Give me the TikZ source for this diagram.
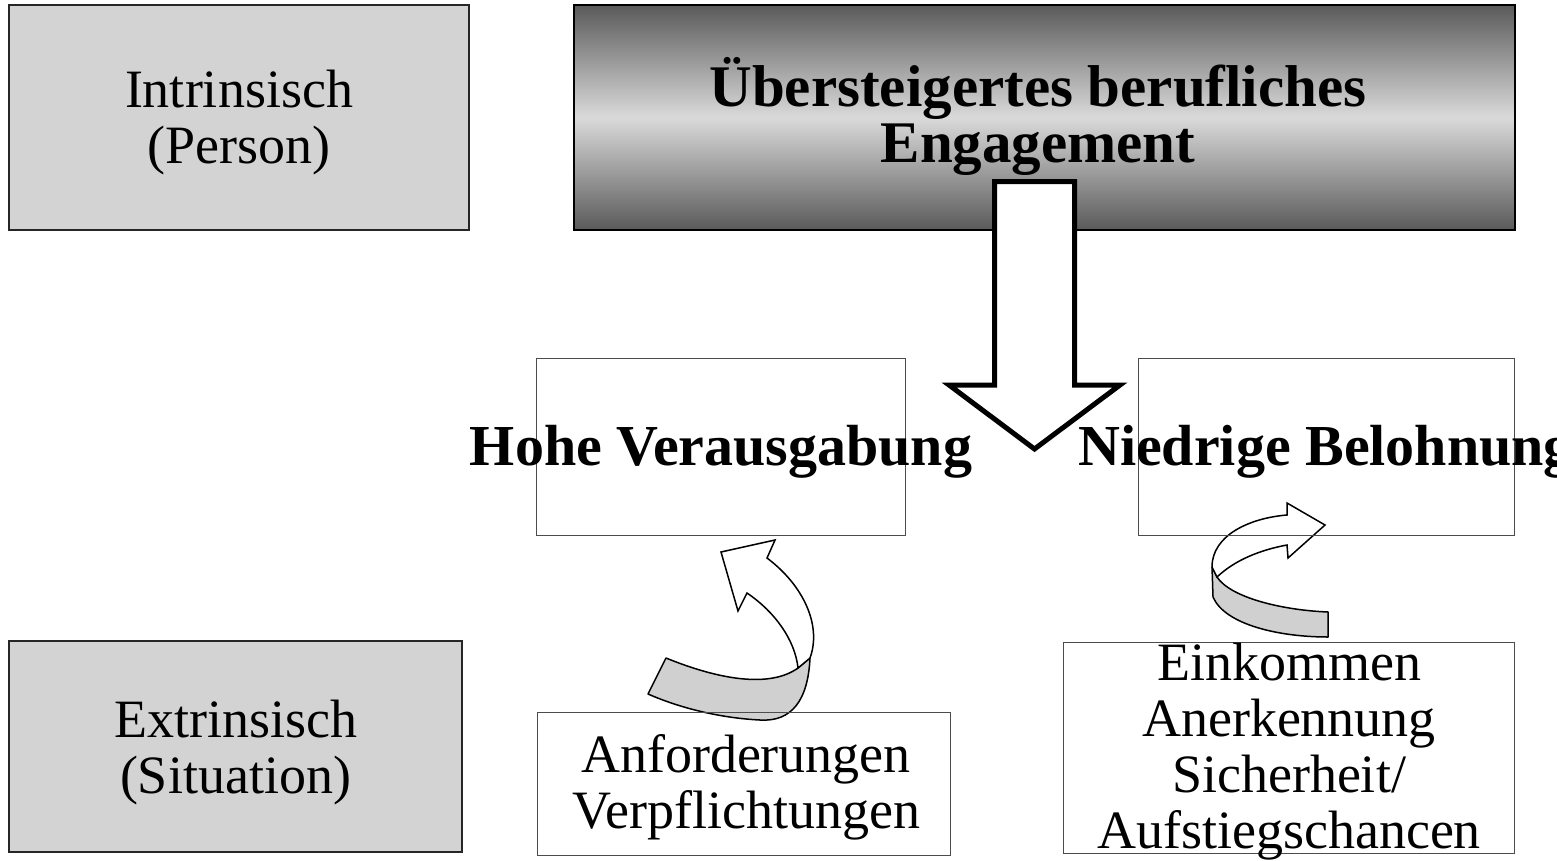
\documentclass[tikz,border=0pt]{standalone}
\usepackage{fontspec}
\setmainfont{Liberation Serif}
\definecolor{boxgray}{HTML}{D3D3D3}
\definecolor{ribbongray}{HTML}{D0D0D0}
\definecolor{shadeedge}{HTML}{5A5A5A}
\definecolor{shademid}{HTML}{DADADA}
\begin{document}
\begin{tikzpicture}[x=1pt,y=-1pt,
  graybox/.style={draw=black!85, line width=1.5pt, fill=boxgray, inner sep=0pt},
  plainbox/.style={draw=black!70, line width=1pt, inner sep=0pt},
  shadebox/.style={draw=black, line width=2pt, inner sep=0pt,
    top color=shadeedge, bottom color=shadeedge, middle color=shademid},
  lbl/.style={font=\fontsize{54}{56}\selectfont, align=center, inner sep=0pt},
  blbl/.style={font=\fontsize{58}{56}\selectfont\bfseries, align=center, inner sep=0pt},
  hlbl/.style={font=\fontsize{59}{56}\selectfont\bfseries, align=center, inner sep=0pt},
  blockarrow/.style={draw=black, line width=5pt, fill=white, line join=miter},
  bentarrow/.style={draw=black, line width=1.5pt, fill=white, line join=miter},
  ribbon/.style={draw=black, line width=1.5pt, fill=ribbongray, line join=round}]
\useasboundingbox (0,0) rectangle (1557,860);

% left column: person / situation
\node[graybox, minimum width=460pt, minimum height=225pt] (intr) at (239,117.5) {};
\node[lbl] (intrT) at (239,122.5) {Intrinsisch\\(Person)};
\node[graybox, minimum width=453pt, minimum height=211pt] (extr) at (235.5,746.5) {};
\node[lbl] (extrT) at (235.5,752.5) {Extrinsisch\\(Situation)};

% shaded heading box
\node[shadebox, minimum width=941pt, minimum height=225pt] (over) at (1044.5,117.5) {};
\node[hlbl] (overT) at (1038,116) {Übersteigertes berufliches\\Engagement};

% bent arrow from demands up to effort
\draw[ribbon] (648,694) -- (666,658) .. controls (720,680) and (770,688) .. (798,668)
  -- (810,658) .. controls (808,700) and (792,722) .. (760,720)
  .. controls (720,718) and (680,708) .. (648,694) -- cycle;
\draw[bentarrow] (798,668) .. controls (795,640) and (775,612) .. (747,593)
  -- (738,611) -- (721,552) -- (775,540) -- (767,558)
  .. controls (803,585) and (822,625) .. (810,658) -- cycle;

% bent arrow from rewards up to low reward
\draw[ribbon] (1212,567) -- (1213,597) .. controls (1225,625) and (1280,637) .. (1328,637)
  -- (1328,612) .. controls (1280,610) and (1230,597) .. (1217,577) -- cycle;
\draw[bentarrow] (1217,577) .. controls (1235,560) and (1260,550) .. (1287,545)
  -- (1288,558) -- (1325,525) -- (1287,503) -- (1287,515)
  .. controls (1250,518) and (1212,535) .. (1212,567) -- cycle;

% middle row boxes
\node[plainbox, minimum width=369pt, minimum height=177pt] (hohe) at (720.5,446.5) {};
\node[plainbox, minimum width=376pt, minimum height=177pt] (nied) at (1326,446.5) {};
\node[blbl, anchor=base] (hoheT) at (721,465) {Hohe Verausgabung};
\node[blbl, anchor=base west] (niedT) at (1078,465) {Niedrige Belohnung};

% bottom row boxes
\node[plainbox, minimum width=413pt, minimum height=143pt] (anf) at (743.5,783.5) {};
\node[lbl] (anfT) at (746,787.5) {Anforderungen\\Verpflichtungen};
\node[plainbox, minimum width=451pt, minimum height=211pt] (eink) at (1288.5,747.5) {};
\node[lbl] (einkT) at (1289,751.5) {Einkommen\\Anerkennung\\Sicherheit/\\Aufstiegschancen};

% block arrow down from the heading
\draw[blockarrow] (994.5,181.5) -- (1074.5,181.5) -- (1074.5,385) -- (1120,385)
  -- (1034.5,449) -- (949,385) -- (994.5,385) -- cycle;
\end{tikzpicture}
\end{document}
